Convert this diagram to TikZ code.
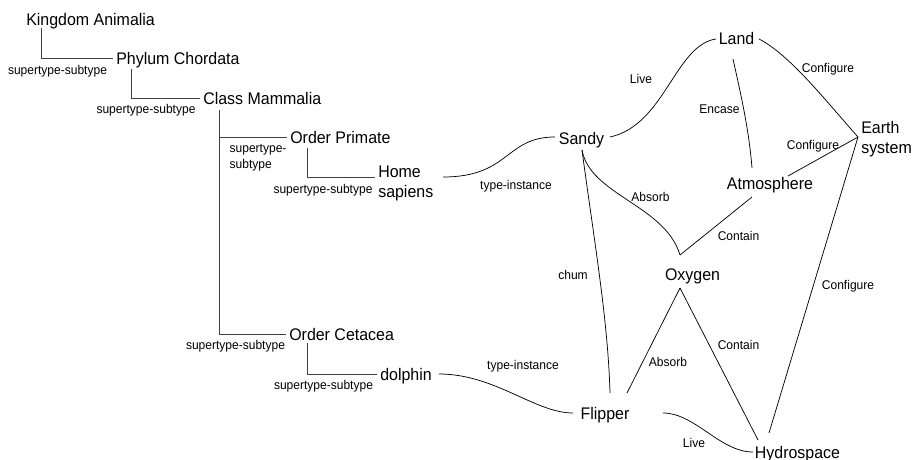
\documentclass[tikz,border=0pt]{standalone}
\usepackage{fontspec}
\setmainfont{Liberation Sans}[FakeStretch=0.95]
\usetikzlibrary{calc}
\begin{document}
\begin{tikzpicture}[x=0.75pt,y=-0.75pt,
  concept/.style={inner sep=2.25pt, font=\fontsize{12.6}{15}\selectfont},
  rel/.style={inner sep=1pt, font=\fontsize{9.5}{12}\selectfont},
  tree/.style={draw=black!75, line width=0.6pt},
  link/.style={draw=black, line width=0.55pt}]
\useasboundingbox (0,0) rectangle (918,460);

% ---- taxonomy ----
\node[concept, anchor=base west] (kingdom) at (23,26) {Kingdom Animalia};
\node[concept, anchor=base west] (phylum) at (113,64.5) {Phylum Chordata};
\node[concept, anchor=base west] (class) at (200,104) {Class Mammalia};
\node[concept, anchor=base west] (primate) at (287,143) {Order Primate};
\node[concept, align=left, anchor=north west] (sapiens) at (375,162.7) {Home\\sapiens};
\node[concept, anchor=base west] (cetacea) at (286,340) {Order Cetacea};
\node[concept, anchor=base west] (dolphin) at (377,380) {dolphin};

\draw[tree] ($(kingdom.base west)+(18,2)$) |- ($(phylum.base west)+(0,-6)$);
\draw[tree] ($(phylum.base west)+(18,4.5)$) |- ($(class.base west)+(0,-6)$);
\draw[tree] ($(class.base west)+(19,6)$) |- ($(primate.base west)+(0,-6)$);
\draw[tree] ($(class.base west)+(19,6)$) |- ($(cetacea.base west)+(0,-6)$);
\draw[tree] ($(primate.base west)+(20,5)$) |- ($(sapiens.north west)+(0,14.3)$);
\draw[tree] ($(cetacea.base west)+(21,3)$) |- ($(dolphin.base west)+(0,-6)$);

\node[rel] (st1) at (57.5,71) {supertype-subtype};
\node[rel] (st2) at (146,110) {supertype-subtype};
\node[rel, align=left, anchor=west] (st3) at (228,158) {supertype-\\subtype};
\node[rel] (st4) at (323,190) {supertype-subtype};
\node[rel] (st5) at (235.5,346) {supertype-subtype};
\node[rel] (st6) at (323.5,386) {supertype-subtype};

% ---- individuals and the earth system ----
\node[concept, anchor=base] (sandy) at (581.5,144) {Sandy};
\node[concept, anchor=base] (land) at (736.5,45) {Land};
\node[concept, anchor=base] (atmos) at (770,190) {Atmosphere};
\node[concept, anchor=base] (oxygen) at (692.5,280) {Oxygen};
\node[concept, anchor=base] (flipper) at (605,419) {Flipper};
\node[concept, anchor=base] (hydro) at (797.5,458) {Hydrospace};
\node[concept, align=left, anchor=north west] (earth) at (858,117.7) {Earth\\system};

\coordinate (earthjoin) at ($(earth.north west)+(0,19.3)$);
\coordinate (oxtop) at ($(oxygen.base)+(-12.5,-25)$);
\coordinate (oxbot) at ($(oxygen.base)+(-12.5,8)$);

\draw[link] ($(sapiens.north west)+(68,14.3)$) .. controls (510,177) and (505,137) .. ($(sandy.base)+(-26.5,-7)$);
\draw[link] ($(dolphin.base west)+(62,-6)$) .. controls (495,374) and (535,413) .. ($(flipper.base)+(-32,-6)$);
\draw[link] ($(sandy.base)+(28.5,-7)$) .. controls (665,125) and (675,45) .. ($(land.base)+(-20.5,-6)$);
\draw[link] ($(land.base)+(22.5,-6)$) .. controls (790,55) and (825,100) .. (earthjoin);
\draw[link] ($(land.base)+(-3.5,14)$) .. controls (741,95) and (749,130) .. ($(atmos.base)+(-18,-22)$);
\draw[link] ($(atmos.base)+(18,-14)$) -- (earthjoin);
\draw[link] (earthjoin) -- ($(hydro.base)+(-28.5,-25)$);
\draw[link] ($(sandy.base)+(0.5,6)$) .. controls (590,195) and (665,205) .. (oxtop);
\draw[link] ($(atmos.base)+(-18,7)$) -- (oxtop);
\draw[link] (oxbot) -- ($(flipper.base)+(22,-26)$);
\draw[link] (oxbot) -- ($(hydro.base)+(-39.5,-18)$);
\draw[link] ($(sandy.base)+(0.5,6)$) .. controls (594,240) and (608,320) .. ($(flipper.base)+(5,-26)$);
\draw[link] ($(flipper.base)+(58,-6)$) .. controls (695,413) and (720,452) .. ($(hydro.base)+(-44.5,-6)$);

\node[rel] (ti1) at (516,186) {type-instance};
\node[rel] (ti2) at (523,366) {type-instance};
\node[rel] (live1) at (641,79) {Live};
\node[rel] (conf1) at (828,69) {Configure};
\node[rel] (encase) at (719.5,109) {Encase};
\node[rel] (conf2) at (813,146) {Configure};
\node[rel] (abs1) at (650.5,197) {Absorb};
\node[rel] (cont1) at (738.5,236) {Contain};
\node[rel] (chum) at (573,275) {chum};
\node[rel] (conf3) at (848,286) {Configure};
\node[rel] (abs2) at (668,362) {Absorb};
\node[rel] (cont2) at (738.5,345) {Contain};
\node[rel] (live2) at (694,443) {Live};
\end{tikzpicture}
\end{document}
